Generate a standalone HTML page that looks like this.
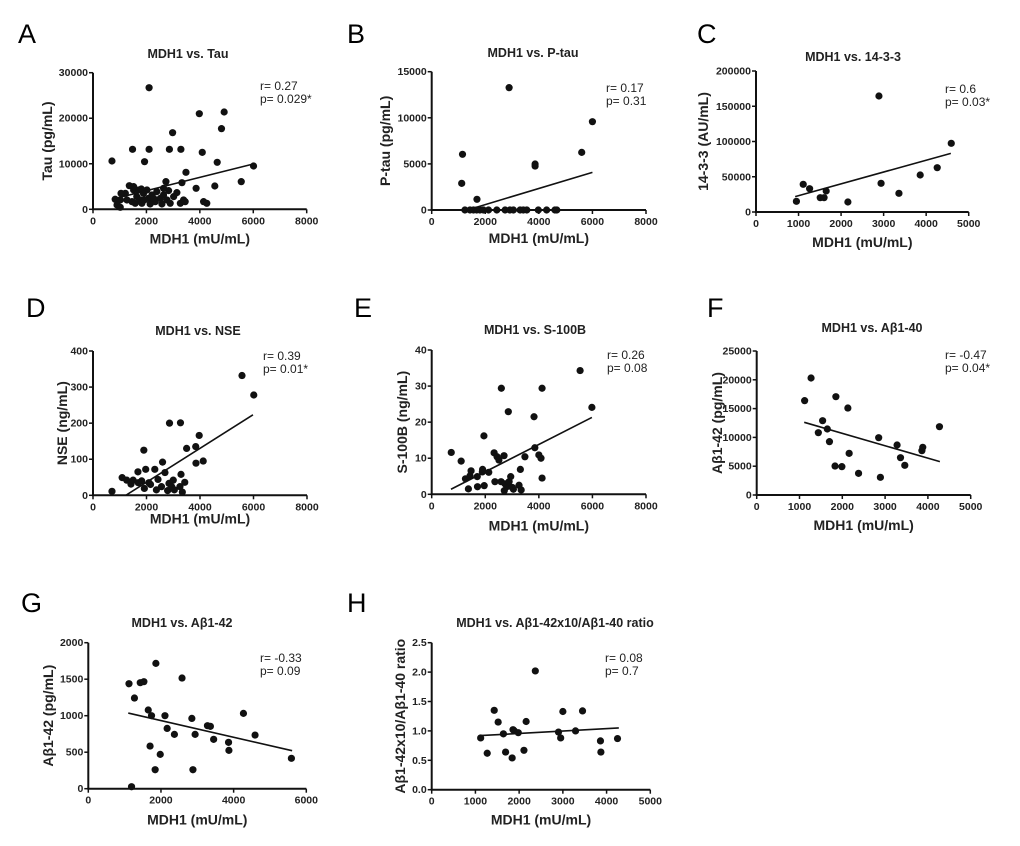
<!DOCTYPE html>
<html><head><meta charset="utf-8"><style>
body{margin:0;background:#fff;}
svg{display:block;font-family:"Liberation Sans",Arial,sans-serif;}
.tk{font-size:10.5px;font-weight:bold;fill:#222;}
.ttl{font-size:12.5px;font-weight:bold;fill:#222;}
.ax{font-size:14px;font-weight:bold;fill:#222;}
.st{font-size:12px;fill:#222;}
.lt{font-size:27px;fill:#000;}
</style></head><body>
<svg id="fig" width="1020" height="846" viewBox="0 0 1020 846"></svg>
<script>
// ---- Data ----
const xA=[710,2100,1480,2100,1930,2980,2860,3290,3980,4910,4810,4090,4650,3480,5550,6010,4560,3860,2730,3330,1360,830,1020,1210,1270,1460,1520,1580,1640,1710,1770,1830,1890,2020,2080,2140,2210,2330,2390,2520,2580,2640,2770,2830,2890,3020,3140,3270,3390,3450,4140,4260,1520,1050,1920,1810,2640,2270,900,1020];
const yA=[10610,26700,13170,13170,10460,16830,13170,13170,21000,21370,17710,12510,10320,8120,6070,9510,5120,4610,6070,5850,5190,2200,2050,3510,2050,1680,4240,1320,2780,4240,2050,1320,3510,4240,2410,1170,3150,1680,3880,2410,1170,3150,2050,4100,1320,2780,3660,1320,2050,1680,1680,1320,4980,3510,2050,4460,4610,2410,950,440];
const fitXA=[710,6000], fitYA=[2200,9950];
const xB=[1120,1150,2890,1690,3860,3860,5600,6000,1240,1430,1560,1680,1800,1930,2120,2430,2740,2920,3050,3300,3420,3550,3980,4290,4600,4670];
const yB=[2890,6040,13270,1160,4990,4770,6250,9580,0,0,0,0,0,0,0,0,0,0,0,0,0,0,0,0,0,0];
const fitXB=[1490,6000], fitYB=[140,4080];
const xC=[950,1110,1260,1510,1600,1650,2160,2890,2940,3360,3860,4260,4590];
const yC=[15130,39240,33100,20330,20330,29790,14180,164540,40660,26480,52480,62880,97400];
const fitXC=[920,4580], fitYC=[21750,83210];
const xD=[710,1900,2860,3270,5570,6010,3970,3840,3500,3850,4120,3290,2600,1680,1970,1090,1260,1420,1500,1690,1820,1920,2090,2150,2310,2370,2430,2560,2690,2790,2840,2940,3000,3040,3250,3340,3430];
const yD=[11,125,200,201,332,278,166,135,130,89,95,58,92,65,72,49,42,31,42,35,40,19,35,30,72,15,44,24,63,13,33,24,42,15,24,9,36];
const fitXD=[1230,5980], fitYD=[0,223];
const xE=[730,1100,1260,1370,1470,1430,1700,1710,1890,1900,1950,1960,2130,2330,2360,2440,2510,2590,2600,2700,2740,2710,2800,2860,2890,2950,3010,3050,3260,3310,3340,3480,3820,3850,4000,4080,4120,4120,5540,5980];
const yE=[11.6,9.2,4.3,1.5,6.5,5.1,4.9,2.1,6.2,6.9,16.2,2.4,6.1,11.5,3.5,10.4,9.5,3.5,29.4,10.7,2.9,1.0,2.1,22.9,3.5,4.9,1.9,1.4,2.5,6.9,1.2,10.4,21.5,12.9,10.9,10.0,29.4,4.5,34.3,24.1];
const fitXE=[720,5980], fitYE=[1.4,21.3];
const xF=[1120,1270,1440,1540,1650,1700,1850,1830,1990,2130,2160,2380,2850,2890,3280,3360,3460,3860,3880,4270];
const yF=[16380,20310,10820,12900,11460,9260,17070,5030,4920,15100,7230,3760,9950,3070,8680,6480,5150,7700,8280,11860];
const fitXF=[1110,4280], fitYF=[12620,5790];
const xG=[1120,1190,1270,1430,1530,1650,1700,1740,1840,1860,1980,2110,2170,2370,2580,2850,2880,2940,3280,3360,3450,3860,3870,4270,4590,5590];
const yG=[1438,27,1242,1452,1466,1078,584,1000,260,1717,470,1000,826,744,1516,963,260,744,863,854,676,635,525,1032,735,416];
const fitXG=[1100,5610], fitYG=[1036,521];
const xH=[1120,1270,1430,1520,1640,1690,1840,1860,1890,1980,2110,2160,2370,2900,2950,3000,3290,3450,3860,3870,4250];
const yH=[0.88,0.62,1.35,1.15,0.95,0.64,0.54,1.02,1.0,0.97,0.67,1.16,2.02,0.98,0.88,1.33,1.0,1.34,0.83,0.64,0.87];
const fitXH=[1110,4280], fitYH=[0.92,1.05];
const xTicks8k=[0,2000,4000,6000,8000], xTicks5k=[0,1000,2000,3000,4000,5000], xTicks6k=[0,2000,4000,6000];
const yTicksA=[0,10000,20000,30000], yTicksB=[0,5000,10000,15000], yTicksC=[0,50000,100000,150000,200000];
const yTicksD=[0,100,200,300,400], yTicksE=[0,10,20,30,40], yTicksF=[0,5000,10000,15000,20000,25000];
const yTicksG=[0,500,1000,1500,2000], yTicksH=["0.0","0.5","1.0","1.5","2.0","2.5"];

const NS="http://www.w3.org/2000/svg";
const svg=document.getElementById('fig');
function mk(tag,attrs,parent,text){const e=document.createElementNS(NS,tag);for(const k in attrs)e.setAttribute(k,attrs[k]);if(text!==undefined)e.textContent=text;(parent||svg).appendChild(e);return e;}

const panels=[
 {id:'a',L:'A',lx:18,ly:43,x0:93,x1:306.7,y0:209.3,y1:72.7,xt:xTicks8k,yt:yTicksA,xs:xA,ys:yA,fx:fitXA,fy:fitYA,title:'MDH1 vs. Tau',tx:188,tyy:58,yl:'Tau (pg/mL)',ylx:47,xoff:34,sx:260,sy:90,r:'r= 0.27',p:'p= 0.029*'},
 {id:'b',L:'B',lx:347,ly:43,x0:431.7,x1:646,y0:210,y1:71.7,xt:xTicks8k,yt:yTicksB,xs:xB,ys:yB,fx:fitXB,fy:fitYB,title:'MDH1 vs. P-tau',tx:533,tyy:57,yl:'P-tau (pg/mL)',ylx:385,xoff:33,sx:606,sy:92,r:'r= 0.17',p:'p= 0.31'},
 {id:'c',L:'C',lx:697,ly:43,x0:756,x1:968.7,y0:212,y1:71,xt:xTicks5k,yt:yTicksC,xs:xC,ys:yC,fx:fitXC,fy:fitYC,title:'MDH1 vs. 14-3-3',tx:853,tyy:61,yl:'14-3-3 (AU/mL)',ylx:703,xoff:35,sx:945,sy:93,r:'r= 0.6',p:'p= 0.03*'},
 {id:'d',L:'D',lx:26,ly:317,x0:93,x1:307,y0:495.3,y1:351,xt:xTicks8k,yt:yTicksD,xs:xD,ys:yD,fx:fitXD,fy:fitYD,title:'MDH1 vs. NSE',tx:198,tyy:335,yl:'NSE (ng/mL)',ylx:62,xoff:28,sx:263,sy:360,r:'r= 0.39',p:'p= 0.01*'},
 {id:'e',L:'E',lx:354,ly:317,x0:431.7,x1:646,y0:494.3,y1:350,xt:xTicks8k,yt:yTicksE,xs:xE,ys:yE,fx:fitXE,fy:fitYE,title:'MDH1 vs. S-100B',tx:535,tyy:334,yl:'S-100B (ng/mL)',ylx:402,xoff:36,sx:607,sy:359,r:'r= 0.26',p:'p= 0.08'},
 {id:'f',L:'F',lx:707,ly:317,x0:756.7,x1:970.7,y0:495,y1:351,xt:xTicks5k,yt:yTicksF,xs:xF,ys:yF,fx:fitXF,fy:fitYF,title:'MDH1 vs. A\u03b21-40',tx:872,tyy:332,yl:'A\u03b21-42 (pg/mL)',ylx:717,xoff:35,sx:945,sy:359,r:'r= -0.47',p:'p= 0.04*'},
 {id:'g',L:'G',lx:21,ly:612,x0:88.3,x1:306.3,y0:788.7,y1:642.7,xt:xTicks6k,yt:yTicksG,xs:xG,ys:yG,fx:fitXG,fy:fitYG,title:'MDH1 vs. A\u03b21-42',tx:182,tyy:627,yl:'A\u03b21-42 (pg/mL)',ylx:48,xoff:36,sx:260,sy:662,r:'r= -0.33',p:'p= 0.09'},
 {id:'h',L:'H',lx:347,ly:612,x0:431.7,x1:650.3,y0:789.7,y1:642.7,xt:xTicks5k,yt:yTicksH,xs:xH,ys:yH,fx:fitXH,fy:fitYH,title:'MDH1 vs.  A\u03b21-42x10/A\u03b21-40 ratio',tx:555,tyy:627,yl:'A\u03b21-42x10/A\u03b21-40 ratio',ylx:400,xoff:35,sx:605,sy:662,r:'r= 0.08',p:'p= 0.7'}
];

panels.forEach(P=>{
  const g=mk('g',{});
  
  
  const xmax=+P.xt[P.xt.length-1], ymax=+P.yt[P.yt.length-1];
  const X=v=>P.x0+(v/xmax)*(P.x1-P.x0);
  const Y=v=>P.y0-(v/ymax)*(P.y0-P.y1);
  const lt=mk('text',{x:P.lx,y:P.ly,class:'lt'},g,P.L);
  
  
  const tt=mk('text',{x:P.tx,y:P.tyy,class:'ttl','text-anchor':'middle'},g,P.title);
  
  
  const ya=mk('line',{x1:P.x0,y1:P.y0,x2:P.x0,y2:P.y1,stroke:'#111','stroke-width':2},g);
  
  
  const xa=mk('line',{x1:P.x0-1,y1:P.y0,x2:P.x1,y2:P.y0,stroke:'#111','stroke-width':2},g);
  
  
  P.yt.forEach(t=>{
    const y=Y(+t);
    mk('line',{x1:P.x0-4,y1:y,x2:P.x0,y2:y,stroke:'#111','stroke-width':1.5},g);
    const e=mk('text',{x:P.x0-5,y:y+3.5,class:'tk','text-anchor':'end'},g,String(t));
    
    
  });
  P.xt.forEach(t=>{
    const x=X(+t);
    mk('line',{x1:x,y1:P.y0,x2:x,y2:P.y0+4,stroke:'#111','stroke-width':1.5},g);
    const e=mk('text',{x:x,y:P.y0+15,class:'tk','text-anchor':'middle'},g,String(t));
    
    
  });
  const xt=mk('text',{x:(P.x0+P.x1)/2,y:P.y0+P.xoff,class:'ax','text-anchor':'middle'},g,'MDH1 (mU/mL)');
  
  
  const cy=(P.y0+P.y1)/2;
  const yt=mk('text',{x:P.ylx+5,y:cy,class:'ax','text-anchor':'middle',transform:'rotate(-90 '+(P.ylx+5)+' '+cy+')'},g,P.yl);
  
  
  P.xs.forEach((v,i)=>{
    const c=mk('circle',{cx:X(v),cy:Y(P.ys[i]),r:3.6,fill:'#111'},g);
    
    
  });
  const fl=mk('line',{x1:X(P.fx[0]),y1:Y(P.fy[0]),x2:X(P.fx[1]),y2:Y(P.fy[1]),stroke:'#111','stroke-width':1.6},g);
  
  
  const r=mk('text',{x:P.sx,y:P.sy,class:'st'},g,P.r);
  
  
  const p=mk('text',{x:P.sx,y:P.sy+13,class:'st'},g,P.p);
  
  
});
</script>
</body></html>
